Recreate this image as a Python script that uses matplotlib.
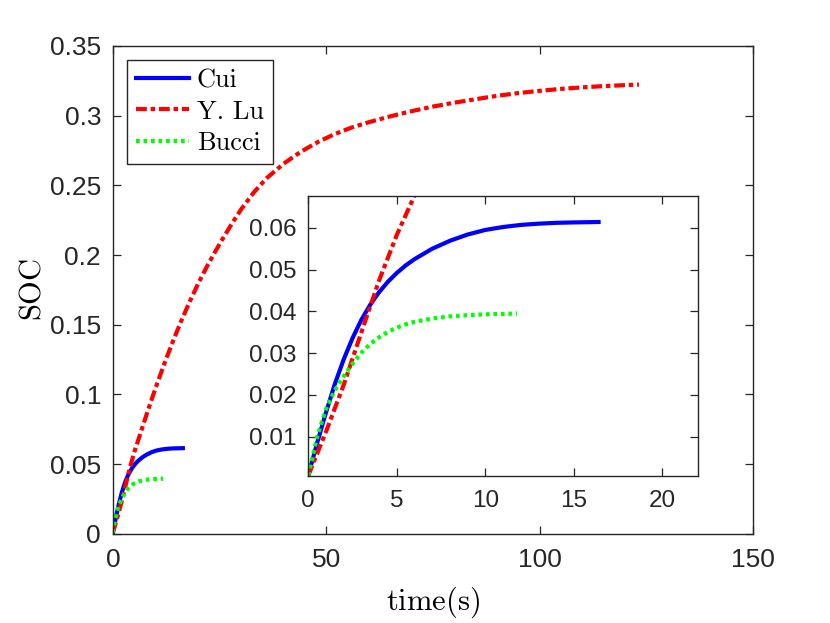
import matplotlib
matplotlib.use("Agg")
import matplotlib.pyplot as plt

plt.rcParams['font.family'] = ['Liberation Sans', 'DejaVu Sans']
plt.rcParams['mathtext.fontset'] = 'cm'

# values
t_cui = [0, 0.5, 1.0, 1.5, 2.0, 2.5, 3.0, 3.5, 4.0, 4.5, 5.0, 5.5, 6.0,
         7.0, 8.0, 9.0, 10, 11, 12, 13, 14, 15, 16.4]
soc_cui = [0.0007, 0.0085, 0.0158, 0.0226, 0.0285, 0.0336, 0.0380, 0.0416,
           0.0446, 0.0471, 0.0492, 0.0510, 0.0525, 0.0550, 0.0569, 0.0584,
           0.0595, 0.0602, 0.0607, 0.0610, 0.0612, 0.0613, 0.0614]

t_lu = [0, 1, 2, 3, 4, 5, 6, 8, 10, 12, 14, 16, 18, 20, 22, 24, 26, 28, 30,
        33, 36, 40, 44, 48, 52, 56, 60, 65, 70, 75, 80, 85, 90, 95, 100,
        105, 110, 115, 120, 123.3]
soc_lu = [0.0007, 0.0112, 0.0224, 0.0350, 0.0474, 0.0583, 0.0677, 0.0865,
          0.1045, 0.1215, 0.1375, 0.1525, 0.1665, 0.1795, 0.1915, 0.2025,
          0.2130, 0.2230, 0.2325, 0.2448, 0.2550, 0.2655, 0.2740, 0.2810,
          0.2868, 0.2915, 0.2953, 0.2995, 0.3032, 0.3065, 0.3093, 0.3118,
          0.3142, 0.3162, 0.3178, 0.3192, 0.3203, 0.3212, 0.3219, 0.3223]

t_bucci = [0, 0.5, 1, 1.5, 2, 2.5, 3, 3.5, 4, 4.5, 5, 5.5, 6, 7, 8, 9, 10,
           11, 11.8]
soc_bucci = [0.0007, 0.0100, 0.0166, 0.0211, 0.0245, 0.0275, 0.0301, 0.0322,
             0.0338, 0.0351, 0.0361, 0.0369, 0.0375, 0.0383, 0.0388, 0.0391,
             0.0393, 0.0394, 0.0395]

main_xticks = [0, 50, 100, 150]
main_yticks = [0, 0.05, 0.1, 0.15, 0.2, 0.25, 0.3, 0.35]
main_ylabels = ['0', '0.05', '0.1', '0.15', '0.2', '0.25', '0.3', '0.35']
ins_xticks = [0, 5, 10, 15, 20]
ins_yticks = [0.01, 0.02, 0.03, 0.04, 0.05, 0.06]
ins_ylabels = ['0.01', '0.02', '0.03', '0.04', '0.05', '0.06']

edge = '#262626'
lw = 3


def draw(ax):
    ax.plot(t_cui, soc_cui, color=(0, 0, 1), lw=lw, label='Cui')
    ax.plot(t_lu, soc_lu, color=(1, 0, 0), lw=lw, label='Y. Lu',
            dashes=(2.6, 0.9, 1.1, 0.9), dash_capstyle='butt')
    ax.plot(t_bucci, soc_bucci, color=(0, 1, 0), lw=lw, label='Bucci',
            dashes=(0.9, 0.9), dash_capstyle='butt')


def style(ax, size):
    for s in ax.spines.values():
        s.set_color(edge)
        s.set_linewidth(1.0)
    ax.tick_params(direction='in', top=True, right=True, length=6,
                   width=0.9, color=edge, labelcolor=edge, labelsize=size)
    ax.tick_params(axis='x', pad=10)
    ax.tick_params(axis='y', pad=8.5)


fig = plt.figure(figsize=(8.3, 6.23), dpi=100)
ax = fig.add_axes([0.136, 0.1433, 0.771, 0.7829])
draw(ax)
ax.set_xlim(0, 150)
ax.set_ylim(0, 0.35)
ax.set_xticks(main_xticks)
ax.set_yticks(main_yticks)
ax.set_yticklabels(main_ylabels)
style(ax, 19)
ax.set_xlabel(r'$\mathrm{time(s)}$', fontsize=22, labelpad=9)
ax.set_ylabel(r'$\mathrm{SOC}$', fontsize=22, labelpad=2)

leg = ax.legend(loc='upper left', bbox_to_anchor=(0.022, 0.972),
                borderaxespad=0, fancybox=False, framealpha=1,
                edgecolor=edge, prop={'family': 'cmr10', 'size': 19},
                handlelength=2.0, handletextpad=0.3, labelspacing=0.28,
                borderpad=0.35)
leg.get_frame().set_linewidth(1.0)

ins = fig.add_axes([0.3714, 0.2364, 0.4692, 0.4495])
draw(ins)
ins.set_xlim(0, 22)
ins.set_ylim(0.00067, 0.0677)
ins.set_xticks(ins_xticks)
ins.set_yticks(ins_yticks)
ins.set_yticklabels(ins_ylabels)
style(ins, 17.5)

fig.savefig('out.png', dpi=100)
